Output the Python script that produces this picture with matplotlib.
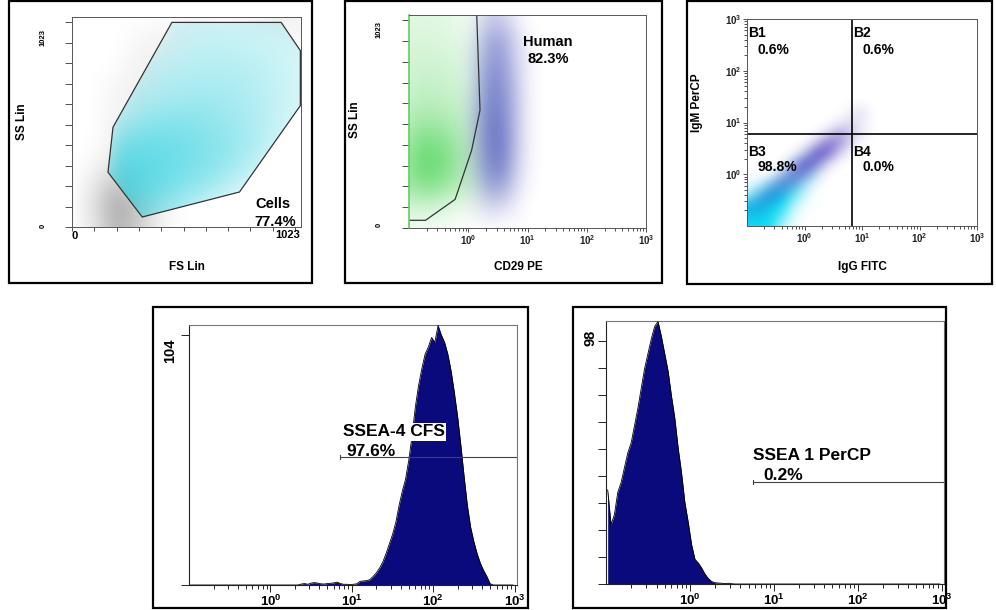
import numpy as np
import matplotlib
matplotlib.use('Agg')
import matplotlib.pyplot as plt
from matplotlib.patches import Rectangle, Polygon
from matplotlib.ticker import FixedLocator, FixedFormatter, NullFormatter

plt.rcParams['font.family'] = ['Liberation Sans', 'DejaVu Sans']
plt.rcParams['mathtext.fontset'] = 'custom'
plt.rcParams['mathtext.rm'] = 'Liberation Sans'
plt.rcParams['mathtext.bf'] = 'Liberation Sans:bold'

# ---------------- DATA ----------------
# Panel 1: FS Lin vs SS Lin density (rows from top SS=1050 to bottom SS=0)
fs_nodes = [0, 105, 210, 315, 420, 525, 630, 735, 840, 945, 1050]
ss_nodes = [0, 105, 210, 315, 420, 525, 630, 735, 840, 945, 1050]
p1_cyan = [
    [0, 0, 0, 0, 0.6, 1.0, 1.0, 1.0, 1.0, 1.0, 0.8],
    [0, 0, 0, 0, 0.8, 1.2, 1.4, 1.4, 1.3, 1.2, 1.0],
    [0, 0, 0, 0.8, 1.2, 1.6, 1.8, 1.7, 1.6, 1.3, 1.0],
    [0, 0, 0.6, 1.2, 1.8, 2.0, 2.0, 2.0, 1.8, 1.4, 1.0],
    [0, 0, 1.0, 1.8, 2.2, 2.4, 2.4, 2.2, 1.9, 1.4, 1.0],
    [0, 0, 1.8, 2.6, 3.0, 3.0, 2.8, 2.4, 2.0, 1.4, 0.8],
    [0, 0, 3.0, 3.6, 3.6, 3.4, 3.0, 2.6, 2.0, 1.2, 0.6],
    [0, 0, 3.8, 4.0, 3.8, 3.4, 3.0, 2.4, 1.6, 0.8, 0.4],
    [0, 0, 3.8, 4.0, 3.6, 3.0, 2.4, 1.6, 0.8, 0.4, 0],
    [0, 0, 2.6, 3.0, 2.6, 2.0, 1.2, 0.6, 0.2, 0, 0],
    [0, 0, 1.5, 2.0, 1.5, 1.0, 0.4, 0, 0, 0, 0],
]
p1_gray = [
    [0, 0, 0, 0, 0, 0.3, 0.2, 0.2, 0.3, 0.6, 0.3],
    [0, 0, 0, 0.2, 0.4, 0.2, 0, 0, 0, 0, 0.2],
    [0, 0, 0, 0.4, 0.3, 0, 0, 0, 0, 0, 0],
    [0, 0, 0.2, 0.45, 0.1, 0, 0, 0, 0, 0, 0],
    [0, 0, 0.35, 0.3, 0, 0, 0, 0, 0, 0, 0],
    [0, 0, 0.45, 0.1, 0, 0, 0, 0, 0, 0, 0],
    [0, 0, 0.5, 0, 0, 0, 0, 0, 0, 0, 0],
    [0, 0.2, 0.8, 0, 0, 0, 0, 0, 0, 0, 0],
    [0, 0.6, 1.8, 0.3, 0, 0, 0, 0, 0, 0, 0],
    [0, 0.8, 2.6, 1.4, 0.3, 0, 0, 0, 0, 0, 0],
    [0, 0.6, 2.2, 1.2, 0.2, 0, 0, 0, 0, 0, 0],
]
cells_gate = [(458, 1023), (959, 1023), (1047, 882), (1047, 607),
              (768, 175), (322, 50), (165, 274), (188, 499)]

# Panel 2: CD29 PE (log10 nodes) vs SS Lin
cd29_log_nodes = [-1.0, -0.8, -0.6, -0.4, -0.2, 0.0, 0.2, 0.4, 0.6, 0.8, 1.0, 1.2, 1.4]
p2_ss_nodes = [0, 105, 210, 315, 420, 525, 630, 735, 840, 945, 1050]
p2_green = [
    [0.8, 0.8, 0.8, 0.7, 0.6, 0.4, 0.2, 0, 0, 0, 0, 0, 0],
    [1.0, 1.0, 1.0, 0.9, 0.8, 0.5, 0.3, 0.1, 0, 0, 0, 0, 0],
    [1.2, 1.2, 1.2, 1.1, 1.0, 0.7, 0.4, 0.2, 0, 0, 0, 0, 0],
    [1.3, 1.5, 1.5, 1.4, 1.2, 0.8, 0.5, 0.3, 0.1, 0, 0, 0, 0],
    [1.5, 1.8, 1.8, 1.7, 1.5, 1.0, 0.6, 0.4, 0.2, 0, 0, 0, 0],
    [2.0, 2.5, 2.5, 2.3, 1.9, 1.3, 0.8, 0.5, 0.2, 0, 0, 0, 0],
    [2.6, 3.5, 3.5, 3.2, 2.5, 1.6, 0.9, 0.5, 0.2, 0, 0, 0, 0],
    [3.0, 4.0, 4.0, 3.6, 2.8, 1.7, 0.9, 0.5, 0.2, 0, 0, 0, 0],
    [2.6, 3.2, 3.2, 2.8, 2.1, 1.3, 0.7, 0.3, 0.1, 0, 0, 0, 0],
    [1.2, 1.3, 1.2, 1.0, 0.7, 0.4, 0.2, 0.1, 0, 0, 0, 0, 0],
    [0.3, 0.3, 0.3, 0.2, 0.1, 0, 0, 0, 0, 0, 0, 0, 0],
]
p2_blue = [
    [0, 0, 0, 0, 0, 0, 0.3, 0.6, 0.5, 0.2, 0, 0, 0],
    [0, 0, 0, 0, 0, 0.1, 0.6, 1.1, 1.0, 0.5, 0.1, 0, 0],
    [0, 0, 0, 0, 0, 0.2, 0.8, 1.3, 1.2, 0.6, 0.2, 0, 0],
    [0, 0, 0, 0, 0, 0.2, 0.9, 1.5, 1.3, 0.7, 0.2, 0, 0],
    [0, 0, 0, 0, 0, 0.3, 1.0, 1.6, 1.4, 0.8, 0.2, 0, 0],
    [0, 0, 0, 0, 0, 0.3, 1.1, 1.7, 1.5, 0.8, 0.2, 0, 0],
    [0, 0, 0, 0, 0, 0.3, 1.1, 1.7, 1.6, 0.8, 0.2, 0, 0],
    [0, 0, 0, 0, 0, 0.3, 1.0, 1.6, 1.5, 0.7, 0.2, 0, 0],
    [0, 0, 0, 0, 0, 0.2, 0.7, 1.2, 1.1, 0.5, 0.1, 0, 0],
    [0, 0, 0, 0, 0, 0.1, 0.3, 0.5, 0.4, 0.2, 0, 0, 0],
    [0, 0, 0, 0, 0, 0, 0, 0, 0, 0, 0, 0, 0],
]
human_gate = [(0.1, 38), (0.19, 38), (0.6, 141), (1.14, 383), (1.58, 581), (1.39, 1050)]

# Panel 3: IgG FITC vs IgM PerCP (log10 nodes); rows from log y = 1.6 down to -1.0
igg_log_nodes = [-1.0, -0.8, -0.6, -0.4, -0.2, 0.0, 0.2, 0.4, 0.6, 0.8, 1.0, 1.2, 1.4, 1.6]
igm_log_nodes = [-1.0, -0.8, -0.6, -0.4, -0.2, 0.0, 0.2, 0.4, 0.6, 0.8, 1.0, 1.2, 1.4, 1.6]
p3_cyan = [
    [0, 0, 0, 0, 0, 0, 0, 0, 0, 0, 0, 0, 0, 0],
    [0, 0, 0, 0, 0, 0, 0, 0, 0, 0, 0, 0, 0, 0],
    [0, 0, 0, 0, 0, 0, 0, 0, 0, 0, 0, 0, 0, 0],
    [0, 0, 0, 0, 0, 0, 0, 0, 0, 0, 0, 0, 0, 0],
    [0, 0, 0, 0, 0, 0, 0, 0, 0, 0, 0, 0, 0, 0],
    [0, 0, 0, 0, 0, 0, 0, 0, 0, 0, 0, 0, 0, 0],
    [0, 0, 0, 0, 0, 0.3, 0.3, 0, 0, 0, 0, 0, 0, 0],
    [0, 0, 0, 0, 0.4, 0.8, 0.5, 0, 0, 0, 0, 0, 0, 0],
    [0, 0, 0, 0.5, 1.2, 1.2, 0.4, 0, 0, 0, 0, 0, 0, 0],
    [0.3, 0.6, 1.2, 2.0, 2.0, 1.0, 0.2, 0, 0, 0, 0, 0, 0, 0],
    [1.0, 1.8, 3.0, 3.0, 2.0, 0.6, 0, 0, 0, 0, 0, 0, 0, 0],
    [3.0, 3.5, 4.0, 3.0, 1.0, 0.2, 0, 0, 0, 0, 0, 0, 0, 0],
    [4.0, 4.0, 4.0, 2.0, 0.4, 0, 0, 0, 0, 0, 0, 0, 0, 0],
    [4.0, 4.0, 3.0, 1.0, 0.2, 0, 0, 0, 0, 0, 0, 0, 0, 0],
]
p3_blue = [
    [0, 0, 0, 0, 0, 0, 0, 0, 0, 0, 0, 0, 0, 0],
    [0, 0, 0, 0, 0, 0, 0, 0, 0, 0, 0, 0, 0, 0],
    [0, 0, 0, 0, 0, 0, 0, 0, 0, 0.2, 0.3, 0, 0, 0],
    [0, 0, 0, 0, 0, 0, 0, 0, 0.2, 0.4, 0.2, 0, 0, 0],
    [0, 0, 0, 0, 0, 0, 0, 0.4, 0.9, 0.6, 0.2, 0, 0, 0],
    [0, 0, 0, 0, 0, 0, 0.6, 1.5, 1.2, 0.4, 0, 0, 0, 0],
    [0, 0, 0, 0, 0, 0.6, 1.8, 1.6, 0.5, 0, 0, 0, 0, 0],
    [0, 0, 0, 0, 0.8, 1.8, 1.4, 0.4, 0, 0, 0, 0, 0, 0],
    [0, 0, 0, 0.6, 1.4, 1.2, 0.3, 0, 0, 0, 0, 0, 0, 0],
    [0, 0, 0.6, 1.2, 0.9, 0.2, 0, 0, 0, 0, 0, 0, 0, 0],
    [0, 0.6, 1.0, 0.6, 0, 0, 0, 0, 0, 0, 0, 0, 0, 0],
    [0.4, 0.8, 0.4, 0, 0, 0, 0, 0, 0, 0, 0, 0, 0, 0],
    [0.3, 0.3, 0, 0, 0, 0, 0, 0, 0, 0, 0, 0, 0, 0],
    [0, 0, 0, 0, 0, 0, 0, 0, 0, 0, 0, 0, 0, 0],
]
quad_x = 6.7
quad_y = 5.9
quad_labels = ['B1', 'B2', 'B3', 'B4']
quad_pcts = ['0.6%', '0.6%', '98.8%', '0.0%']

# Histograms: 100 channels, 0.04 decade each, from 10^-1 to 10^3
hist_log_start = -1.0
hist_log_step = 0.04
ssea4_counts = [
    0, 0, 0, 0, 0, 0, 0, 0, 0, 0,
    0, 0, 0, 0, 0, 0, 0, 0, 0, 0,
    0, 0, 0, 0, 0, 0, 0, 0, 0, 0,
    0, 0, 0, 0, 0.4, 0.6, 0.3, 0.8, 1.0, 0.8,
    0.5, 0.4, 0.6, 0.7, 0.9, 1.2, 0.6, 0.3, 0.3, 0.2,
    0.3, 0.5, 1.5, 1.7, 1.8, 2.2, 3.5, 5, 7, 9.5,
    13, 17, 21, 26, 33, 39, 44, 52, 62, 74,
    83, 90, 96, 99, 103, 101, 108, 104, 101, 96,
    89, 80, 70, 58, 45, 33, 24, 18, 13, 9,
    6, 3.5, 0.5, 0, 0, 0, 0, 0, 0, 0,
]
ssea1_counts = [
    38, 24, 28, 37, 41, 47, 53, 57, 64, 71,
    79, 87, 93, 99, 104, 106, 100, 93, 86, 76,
    67, 55, 45, 33, 25, 16, 10, 8.5, 6.5, 4,
    2.2, 1, 0.5, 0.4, 0.3, 0.2, 0.3, 0.1, 0, 0,
    0, 0, 0, 0, 0, 0, 0, 0, 0, 0,
    0, 0, 0, 0, 0, 0, 0, 0, 0, 0,
    0, 0, 0, 0, 0, 0, 0, 0, 0, 0,
    0, 0, 0, 0, 0, 0, 0, 0, 0, 0,
    0, 0, 0, 0, 0, 0, 0, 0, 0, 0,
    0, 0, 0, 0, 0, 0, 0, 0, 0, 0,
]
ssea4_ymax = 104
ssea1_ymax = 98
ssea4_gate = (7.2, 53.4)
ssea1_gate = (5.6, 41.3)

# ---------------- FIGURE ----------------
W, H = 996, 610
fig = plt.figure(figsize=(W / 100, H / 100), dpi=100)


def fx(x):
    return x / W


def fy(y):
    return 1 - y / H


def add_ax(l, t, r, b):
    return fig.add_axes([l / W, 1 - b / H, (r - l) / W, (b - t) / H])


def box(l, t, r, b):
    fig.add_artist(Rectangle((l / W, 1 - b / H), (r - l) / W, (b - t) / H,
                             transform=fig.transFigure, fill=False,
                             lw=1.6, ec='black', zorder=10))


def layer(ax, grid, xnodes, ynodes, color, vmax, amax, gamma=1.0):
    """Density layer: constant colour, opacity from the grid (rows top->bottom)."""
    g = np.clip(np.array(grid, dtype=float) / vmax, 0, 1) ** gamma * amax
    rgba = np.zeros(g.shape + (4,))
    rgba[..., :3] = color
    rgba[..., 3] = g
    dx = (xnodes[-1] - xnodes[0]) / (len(xnodes) - 1)
    dy = (ynodes[-1] - ynodes[0]) / (len(ynodes) - 1)
    ext = [xnodes[0] - dx / 2, xnodes[-1] + dx / 2, ynodes[0] - dy / 2, ynodes[-1] + dy / 2]
    return ax.imshow(rgba, extent=ext, origin='upper', interpolation='bicubic', aspect='auto', zorder=1)


spine_col = '#333333'


def style_axes(ax, lw=0.8, col=spine_col):
    for s in ax.spines.values():
        s.set_linewidth(lw)
        s.set_color(col)


def log_minor():
    return FixedLocator([k * 10.0 ** d for d in (-1, 0, 1, 2) for k in range(2, 10)])


def log_ticks_x(ax, fs):
    ax.xaxis.set_major_locator(FixedLocator([1, 10, 100, 1000]))
    ax.xaxis.set_major_formatter(FixedFormatter([r'$\mathbf{10^{%d}}$' % d for d in range(4)]))
    ax.xaxis.set_minor_locator(log_minor())
    ax.xaxis.set_minor_formatter(NullFormatter())
    for lab in ax.get_xticklabels():
        lab.set_fontsize(fs)


# ---------- Panel 1 ----------
box(9, 1, 312, 283)
ax1 = add_ax(72, 17, 301, 227)
style_axes(ax1, 0.7, '#555555')
layer(ax1, p1_gray, fs_nodes, ss_nodes, (0.38, 0.38, 0.38), 2.6, 0.6)
cim = layer(ax1, p1_cyan, fs_nodes, ss_nodes, (0.12, 0.80, 0.86), 4.0, 0.72)
gate = Polygon(cells_gate, closed=True, fill=False, ec='#333333', lw=0.9, zorder=3)
ax1.add_patch(gate)
cim.set_clip_path(gate)
ax1.set_xlim(0, 1050)
ax1.set_ylim(0, 1050)
ax1.set_xticks(np.arange(11) * 102.3)
ax1.set_yticks(np.arange(11) * 102.3)
ax1.set_xticklabels([])
ax1.set_yticklabels([])
ax1.tick_params(direction='out', length=3, width=0.6, color=spine_col)
ax1.tick_params(axis='y', length=5)
fig.text(fx(22), fy(122), 'SS Lin', rotation=90, ha='center', va='center', fontsize=8.5, fontweight='bold')
fig.text(fx(187), fy(267), 'FS Lin', ha='center', va='center', fontsize=8.5, fontweight='bold')
fig.text(fx(43), fy(37), '1023', rotation=90, ha='center', va='center', fontsize=5.5, fontweight='bold')
fig.text(fx(43), fy(226), '0', rotation=90, ha='center', va='center', fontsize=5.5, fontweight='bold')
fig.text(fx(75), fy(236), '0', ha='center', va='center', fontsize=8, fontweight='bold')
fig.text(fx(288), fy(235), '1023', ha='center', va='center', fontsize=8, fontweight='bold')
fig.text(fx(273), fy(204), 'Cells', ha='center', va='center', fontsize=10.5, fontweight='bold')
fig.text(fx(275), fy(222), '77.4%', ha='center', va='center', fontsize=10.5, fontweight='bold')

# ---------- Panel 2 ----------
box(345, 1, 662, 283)
bg2 = add_ax(409, 15, 646, 228)
bg2.set_axis_off()
layer(bg2, p2_green, cd29_log_nodes, p2_ss_nodes, (0.18, 0.80, 0.22), 4.0, 0.70)
layer(bg2, p2_blue, cd29_log_nodes, p2_ss_nodes, (0.14, 0.18, 0.68), 1.7, 0.62)
bg2.set_xlim(-1, 3)
bg2.set_ylim(0, 1050)
ax2 = add_ax(409, 15, 646, 228)
ax2.patch.set_alpha(0)
style_axes(ax2, 0.7, '#555555')
ax2.set_xscale('log')
gx, gy = zip(*human_gate)
ax2.plot(gx, gy, color='#333333', lw=0.9)
ax2.set_xlim(0.1, 1000)
ax2.set_ylim(0, 1050)
ax2.spines['left'].set_color('#5fcf5f')
ax2.spines['left'].set_linewidth(1.2)
log_ticks_x(ax2, 7)
ax2.set_yticks(np.arange(11) * 102.3)
ax2.set_yticklabels([])
ax2.tick_params(axis='x', which='both', direction='out', color=spine_col, width=0.6, pad=1)
ax2.tick_params(axis='x', which='major', length=3, labelcolor='#222222')
ax2.tick_params(axis='x', which='minor', length=2)
ax2.tick_params(axis='y', direction='out', length=5, width=0.6, color=spine_col)
fig.text(fx(355), fy(120), 'SS Lin', rotation=90, ha='center', va='center', fontsize=8.5, fontweight='bold')
fig.text(fx(518), fy(267), 'CD29 PE', ha='center', va='center', fontsize=8.5, fontweight='bold')
fig.text(fx(379), fy(30), '1023', rotation=90, ha='center', va='center', fontsize=5.5, fontweight='bold')
fig.text(fx(379), fy(225), '0', rotation=90, ha='center', va='center', fontsize=5.5, fontweight='bold')
fig.text(fx(523), fy(42), 'Human', ha='left', va='center', fontsize=10.5, fontweight='bold')
fig.text(fx(527), fy(59), '82.3%', ha='left', va='center', fontsize=10.5, fontweight='bold')

# ---------- Panel 3 ----------
box(687, 1, 992, 284)
bg3 = add_ax(747, 19, 977, 226)
bg3.set_axis_off()
layer(bg3, p3_cyan, igg_log_nodes, igm_log_nodes, (0.0, 0.86, 0.95), 3.0, 0.95)
layer(bg3, p3_blue, igg_log_nodes, igm_log_nodes, (0.20, 0.12, 0.70), 1.8, 0.75)
bg3.set_xlim(-1, 3)
bg3.set_ylim(-1, 3)
ax3 = add_ax(747, 19, 977, 226)
ax3.patch.set_alpha(0)
style_axes(ax3, 0.7, '#555555')
ax3.set_xscale('log')
ax3.set_yscale('log')
ax3.axvline(quad_x, color='black', lw=1.2)
ax3.axhline(quad_y, color='black', lw=1.2)
ax3.set_xlim(0.1, 1000)
ax3.set_ylim(0.1, 1000)
log_ticks_x(ax3, 7)
ax3.yaxis.set_major_locator(FixedLocator([1, 10, 100, 1000]))
ax3.yaxis.set_major_formatter(FixedFormatter([r'$\mathbf{10^{%d}}$' % d for d in range(4)]))
ax3.yaxis.set_minor_locator(log_minor())
ax3.yaxis.set_minor_formatter(NullFormatter())
ax3.tick_params(which='both', direction='out', color=spine_col, width=0.6, pad=1)
ax3.tick_params(which='major', length=3, labelsize=7, labelcolor='#222222')
ax3.tick_params(which='minor', length=2)
fig.text(fx(697), fy(103), 'IgM PerCP', rotation=90, ha='center', va='center', fontsize=8.5, fontweight='bold')
fig.text(fx(862), fy(267), 'IgG FITC', ha='center', va='center', fontsize=8.5, fontweight='bold')
qpos = [(748, 33, 757, 50), (853, 33, 862, 50), (748, 152, 757, 167), (853, 152, 862, 167)]
for (lx, ly, px, py), lab, pct in zip(qpos, quad_labels, quad_pcts):
    fig.text(fx(lx), fy(ly), lab, ha='left', va='center', fontsize=10, fontweight='bold')
    fig.text(fx(px), fy(py), pct, ha='left', va='center', fontsize=10, fontweight='bold')

# ---------- Histograms ----------
navy = '#0a0a7c'
centers = 10.0 ** (hist_log_start + hist_log_step * (np.arange(len(ssea4_counts)) + 0.5))


def hist_panel(rect, counts, ymax, ytop, yticks, gate, lab, pct, lab_pos, pct_pos, ylab, ylab_pos, bbox):
    ax = add_ax(*rect)
    style_axes(ax, 0.8, '#222222')
    ax.spines['top'].set_color('#777777')
    ax.spines['right'].set_color('#777777')
    ax.set_xscale('log')
    ax.fill_between(centers, counts, 0, color=navy, lw=0, zorder=2)
    ax.plot(centers, counts, color='black', lw=0.6, zorder=3)
    ax.set_xlim(0.1, 1070)
    ax.set_ylim(0, ytop)
    log_ticks_x(ax, 9.5)
    ax.set_yticks(yticks)
    ax.set_yticklabels([])
    ax.tick_params(which='both', direction='out', color='#222222', width=0.7, pad=1)
    ax.tick_params(axis='x', which='major', length=5, labelsize=9.5)
    ax.tick_params(axis='x', which='minor', length=3)
    ax.tick_params(axis='y', length=6)
    gx0, gyv = gate
    ax.plot([gx0, 1070], [gyv, gyv], color='#444444', lw=0.8, zorder=4)
    ax.plot([gx0, gx0], [gyv - ymax * 0.008, gyv + ymax * 0.008], color='#444444', lw=0.8, zorder=4)
    kw = dict(ha='left', va='center', fontsize=12.5, fontweight='bold', zorder=5)
    if bbox:
        kw['bbox'] = dict(facecolor='white', edgecolor='none', pad=1.0)
    fig.text(fx(lab_pos[0]), fy(lab_pos[1]), lab, **kw)
    fig.text(fx(pct_pos[0]), fy(pct_pos[1]), pct, ha='left', va='center', fontsize=12.5,
             fontweight='bold', zorder=5)
    fig.text(fx(ylab_pos[0]), fy(ylab_pos[1]), ylab, rotation=90, ha='center', va='center',
             fontsize=10.5, fontweight='bold')
    return ax


box(153, 307, 528, 608)
hist_panel((189, 325, 517, 585), ssea4_counts, ssea4_ymax, 108.2, [0, ssea4_ymax], ssea4_gate,
           'SSEA-4 CFS', '97.6%', (343, 432), (346, 452), '104', (170, 351), True)

box(573, 307, 946, 608)
hist_panel((606, 321, 944, 584), ssea1_counts, ssea1_ymax, 106.2, np.linspace(0, ssea1_ymax, 10),
           ssea1_gate, 'SSEA 1 PerCP', '0.2%', (753, 455), (763, 475), '98', (590, 338), False)

fig.savefig('out.png', dpi=100)
